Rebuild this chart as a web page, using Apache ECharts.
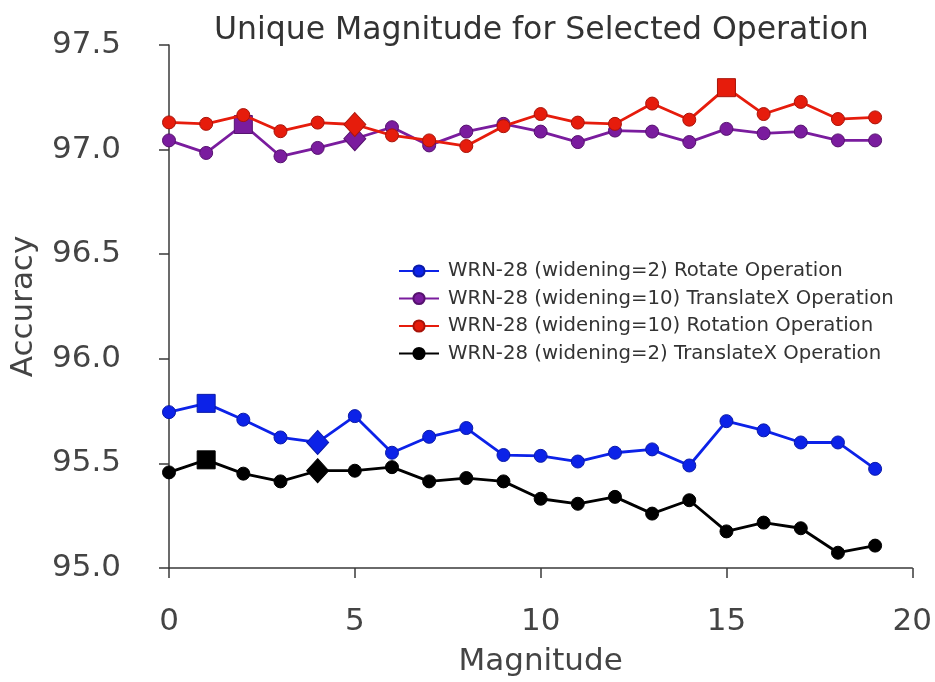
<!DOCTYPE html>
<html>
<head>
<meta charset="utf-8">
<script src="https://cdn.jsdelivr.net/npm/echarts@6/dist/echarts.min.js"></script>
<style>html,body{margin:0;padding:0;background:#fff;}#chart{width:935px;height:682px;}</style>
</head>
<body>
<div id="chart"></div>
<script>
const magnitudes = [0,1,2,3,4,5,6,7,8,9,10,11,12,13,14,15,16,17,18,19];
const seriesNames = [
  'WRN-28 (widening=2) Rotate Operation',
  'WRN-28 (widening=10) TranslateX Operation',
  'WRN-28 (widening=10) Rotation Operation',
  'WRN-28 (widening=2) TranslateX Operation'
];
const wrn2Rotate = [95.745,95.787,95.709,95.624,95.600,95.726,95.551,95.627,95.669,95.540,95.536,95.509,95.551,95.567,95.490,95.702,95.658,95.600,95.600,95.474];
const wrn10TranslateX = [97.044,96.984,97.120,96.968,97.008,97.052,97.107,97.020,97.086,97.123,97.086,97.036,97.091,97.086,97.036,97.099,97.078,97.086,97.044,97.044];
const wrn10Rotation = [97.130,97.123,97.165,97.088,97.129,97.120,97.068,97.044,97.017,97.112,97.170,97.129,97.123,97.220,97.143,97.296,97.170,97.228,97.146,97.154];
const wrn2TranslateX = [95.457,95.517,95.451,95.414,95.465,95.465,95.482,95.414,95.430,95.414,95.331,95.307,95.340,95.260,95.324,95.175,95.217,95.190,95.073,95.107];
// highlighted magnitudes (square = best, diamond = selected)
const squareAt = [1, 2, 15, 1];
const diamondAt = [4, 5, 5, 4];
const xTicks = [0, 5, 10, 15, 20];
const yTicks = [95.0, 95.5, 96.0, 96.5, 97.0, 97.5];

const colors = ['#0c22e8', '#7a1c9e', '#e61c0c', '#000000'];
const edges = ['#0a1aa8', '#56126f', '#a8140a', '#000000'];
const allValues = [wrn2Rotate, wrn10TranslateX, wrn10Rotation, wrn2TranslateX];

const series = allValues.map((vals, s) => ({
  name: seriesNames[s],
  type: 'line',
  symbol: 'circle',
  symbolSize: 13,
  lineStyle: { color: colors[s], width: 2.8 },
  itemStyle: { color: colors[s], borderColor: edges[s], borderWidth: 1 },
  emphasis: { disabled: true },
  z: 2 + s,
  data: vals.map((v, i) => {
    const item = { value: [magnitudes[i], v] };
    if (i === squareAt[s]) { item.symbol = 'rect'; item.symbolSize = 18; }
    if (i === diamondAt[s]) { item.symbol = 'diamond'; item.symbolSize = [22, 24]; }
    return item;
  })
}));

const chart = echarts.init(document.getElementById('chart'), null, { renderer: 'canvas' });
const axisColor = '#3a3a3a';
const textColor = '#444444';
const font = 'DejaVu Sans';
chart.setOption({
  animation: false,
  backgroundColor: '#ffffff',
  textStyle: { fontFamily: font },
  title: {
    text: 'Unique Magnitude for Selected Operation',
    left: 209, top: 10,
    textStyle: { fontFamily: font, fontSize: 31.5, fontWeight: 'normal', color: '#333333' }
  },
  legend: {
    orient: 'vertical',
    left: 393, top: 256,
    itemWidth: 40, itemHeight: 14, itemGap: 7.5,
    data: seriesNames,
    textStyle: { fontFamily: font, fontSize: 19.7, color: '#333333', padding: [0, 0, 0, 4] }
  },
  grid: { left: 169, right: 22, top: 45, bottom: 109, containLabel: false },
  xAxis: {
    type: 'value', min: xTicks[0], max: xTicks[xTicks.length - 1], interval: 5,
    name: 'Magnitude', nameLocation: 'middle', nameGap: 78,
    nameTextStyle: { fontFamily: font, fontSize: 31, color: textColor },
    axisLine: { show: true, lineStyle: { color: axisColor, width: 1.5 } },
    axisTick: { show: true, inside: false, length: 10, lineStyle: { color: axisColor, width: 1.5 } },
    axisLabel: { fontFamily: font, fontSize: 31, color: textColor, margin: 38 },
    splitLine: { show: false }
  },
  yAxis: {
    type: 'value', min: yTicks[0], max: yTicks[yTicks.length - 1], interval: 0.5,
    name: 'Accuracy', nameLocation: 'middle', nameGap: 130,
    nameTextStyle: { fontFamily: font, fontSize: 31, color: textColor },
    axisLine: { show: true, lineStyle: { color: axisColor, width: 1.5 } },
    axisTick: { show: true, inside: false, length: 10, lineStyle: { color: axisColor, width: 1.5 } },
    axisLabel: { fontFamily: font, fontSize: 31, color: textColor, margin: 48, formatter: v => v.toFixed(1) },
    splitLine: { show: false }
  },
  series: series
});
</script>
</body>
</html>
